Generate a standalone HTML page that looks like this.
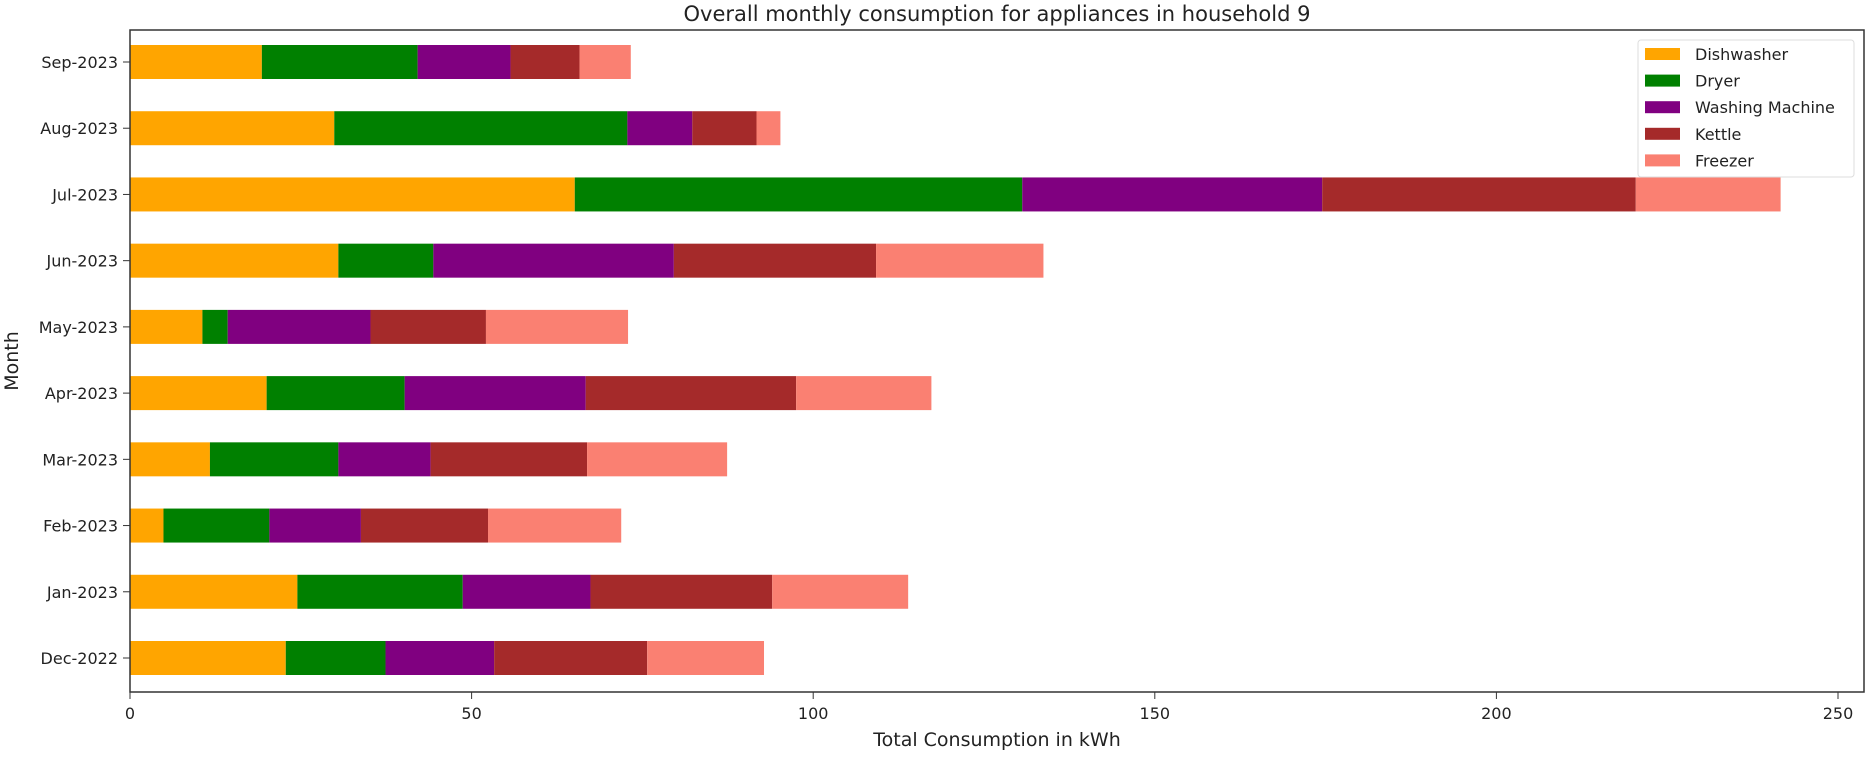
<!DOCTYPE html>
<html><head><meta charset="utf-8"><style>
html,body{margin:0;padding:0;background:#fff}
svg text{font-family:"DejaVu Sans","Liberation Sans",sans-serif;fill:#222}
</style></head><body>
<svg id="chart" width="1865" height="754" xmlns="http://www.w3.org/2000/svg">
<text x="997" y="21" font-size="21" text-anchor="middle">Overall monthly consumption for appliances in household 9</text>
<g id="bars"></g>
<g id="axes"></g>
<text x="997" y="746" font-size="19" text-anchor="middle">Total Consumption in kWh</text>
<text transform="translate(18,361) rotate(-90)" font-size="19" text-anchor="middle">Month</text>
<g id="legend"></g>
</svg>
<script>
const months = ["Dec-2022","Jan-2023","Feb-2023","Mar-2023","Apr-2023","May-2023","Jun-2023","Jul-2023","Aug-2023","Sep-2023"];
const seriesNames = ["Dishwasher","Dryer","Washing Machine","Kettle","Freezer"];
const dishwasher = [22.8,24.5,4.9,11.7,20.0,10.6,30.5,65.1,29.9,19.3];
const dryer = [14.6,24.2,15.5,18.8,20.2,3.7,13.9,65.5,42.9,22.8];
const washingMachine = [15.9,18.7,13.4,13.5,26.5,20.9,35.2,43.9,9.5,13.6];
const kettle = [22.4,26.6,18.6,22.9,30.8,16.9,29.6,45.9,9.4,10.1];
const freezer = [17.1,19.9,19.5,20.5,19.8,20.8,24.5,21.2,3.5,7.5];
const xTicks = [0,50,100,150,200,250];

const series = [dishwasher,dryer,washingMachine,kettle,freezer];
const colors = ["#ffa500","#008000","#800080","#a52a2a","#fa8072"];
const NS="http://www.w3.org/2000/svg";
const L=130,R=1864,T=30,B=692;
const xs=v=>L+v*(1838-L)/250;
const ys=i=>658-i*(658-62)/(months.length-1);
const bh=34;
const gb=document.getElementById('bars');
months.forEach((m,i)=>{
  let acc=0;
  series.forEach((s,k)=>{
    const r=document.createElementNS(NS,'rect');
    r.setAttribute('x',xs(acc));r.setAttribute('width',xs(acc+s[i])-xs(acc));
    r.setAttribute('y',ys(i)-bh/2);r.setAttribute('height',bh);r.setAttribute('fill',colors[k]);
    
    
    gb.appendChild(r);acc+=s[i];
  });
});
const ga=document.getElementById('axes');
const fr=document.createElementNS(NS,'rect');
fr.setAttribute('x',L);fr.setAttribute('y',T);fr.setAttribute('width',R-L);fr.setAttribute('height',B-T);
fr.setAttribute('fill','none');fr.setAttribute('stroke','#333');fr.setAttribute('stroke-width','1.5');


ga.appendChild(fr);
xTicks.forEach(t=>{
  const l=document.createElementNS(NS,'line');
  l.setAttribute('x1',xs(t));l.setAttribute('x2',xs(t));l.setAttribute('y1',B);l.setAttribute('y2',B+7);l.setAttribute('stroke','#333');
  
  
  ga.appendChild(l);
  const tx=document.createElementNS(NS,'text');
  tx.setAttribute('x',xs(t));tx.setAttribute('y',B+27);tx.setAttribute('font-size','16');tx.setAttribute('text-anchor','middle');
  tx.textContent=t;
  
  
  ga.appendChild(tx);
});
months.forEach((m,i)=>{
  const l=document.createElementNS(NS,'line');
  l.setAttribute('x1',L-7);l.setAttribute('x2',L);l.setAttribute('y1',ys(i));l.setAttribute('y2',ys(i));l.setAttribute('stroke','#333');
  
  
  ga.appendChild(l);
  const tx=document.createElementNS(NS,'text');
  tx.setAttribute('x',L-12);tx.setAttribute('y',ys(i)+6);tx.setAttribute('font-size','16');tx.setAttribute('text-anchor','end');
  tx.textContent=m;
  
  
  ga.appendChild(tx);
});
const gl=document.getElementById('legend');
const lb=document.createElementNS(NS,'rect');
lb.setAttribute('x',1638);lb.setAttribute('y',40);lb.setAttribute('width',216);lb.setAttribute('height',137);lb.setAttribute('rx',3);
lb.setAttribute('fill','#fff');lb.setAttribute('fill-opacity','0.8');lb.setAttribute('stroke','#ddd');


gl.appendChild(lb);
seriesNames.forEach((n,k)=>{
  const y=54+k*26.6;
  const r=document.createElementNS(NS,'rect');
  r.setAttribute('x',1645);r.setAttribute('y',y-6);r.setAttribute('width',35);r.setAttribute('height',12);r.setAttribute('fill',colors[k]);
  
  
  gl.appendChild(r);
  const tx=document.createElementNS(NS,'text');
  tx.setAttribute('x',1695);tx.setAttribute('y',y+6);tx.setAttribute('font-size','16');
  tx.textContent=n;
  
  
  gl.appendChild(tx);
});
</script>
</body></html>
